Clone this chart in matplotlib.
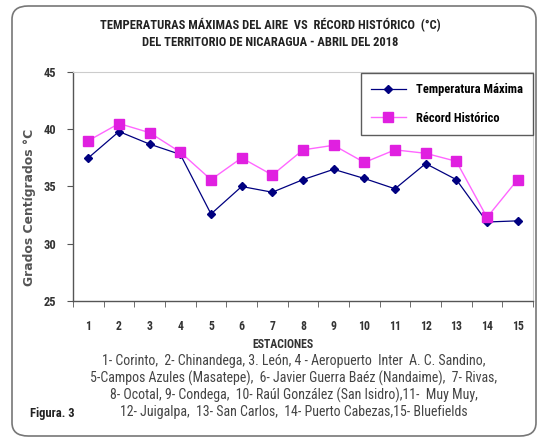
import matplotlib
matplotlib.use("Agg")
import matplotlib.pyplot as plt
from matplotlib.patches import FancyBboxPatch
from matplotlib import font_manager

estaciones = ["1", "2", "3", "4", "5", "6", "7", "8", "9", "10", "11", "12", "13", "14", "15"]
temp_maxima = [37.5, 39.8, 38.7, 37.8, 32.6, 35.0, 34.5, 35.6, 36.5, 35.7, 34.8, 37.0, 35.6, 31.9, 32.0]
record_historico = [39.0, 40.5, 39.7, 38.0, 35.6, 37.5, 36.0, 38.2, 38.6, 37.1, 38.2, 37.9, 37.2, 32.3, 35.6]
y_ticks = [25, 30, 35, 40, 45]

names = {f.name for f in font_manager.fontManager.ttflist}
narrow = "DejaVu Sans"
for cand in ["Liberation Sans Narrow", "Arial Narrow", "Roboto Condensed", "Archivo Narrow",
             "Open Sans Condensed", "Barlow Semi Condensed", "DejaVu Sans"]:
    if cand in names:
        narrow = cand
        break
plt.rcParams['font.family'] = [narrow, 'DejaVu Sans']

fig = plt.figure(figsize=(5.41, 4.42), dpi=100)

frame = FancyBboxPatch((12 / 541, 6 / 442), 524 / 541, 430 / 442,
                       boxstyle="round,pad=0,rounding_size=0.03",
                       transform=fig.transFigure, fill=False,
                       edgecolor="#777777", linewidth=1.2)
fig.patches.append(frame)

ax = fig.add_axes([73 / 541, 1 - 301 / 442, 460 / 541, 229 / 442])
x = list(range(len(estaciones)))
ax.plot(x, temp_maxima, color="#000080", lw=0.9, marker="D", markersize=4,
        markerfacecolor="#000080", markeredgecolor="#000080", label="Temperatura Máxima")
ax.plot(x, record_historico, color="#FF66FF", lw=1.0, marker="s", markersize=6.5,
        markerfacecolor="#E020E0", markeredgecolor="#E020E0", label="Récord Histórico")

ax.set_xlim(-0.5, len(estaciones) - 0.5)
ax.set_ylim(25, 45)
ax.set_yticks(y_ticks)
ax.set_yticklabels([str(v) for v in y_ticks], fontsize=9, fontweight="bold", color="#333333")
ax.set_xticks(x)
ax.set_xticklabels(estaciones, fontsize=8.5, fontweight="bold", color="#333333")
ax.tick_params(axis="x", length=0, pad=14)
ax.set_xticks([i - 0.5 for i in range(len(estaciones) + 1)], minor=True)
ax.tick_params(axis="x", which="minor", length=4, direction="out", color="#555555")
ax.tick_params(axis="y", length=4, direction="out", color="#555555", pad=8)
for s in ["left", "bottom"]:
    ax.spines[s].set_color("#555555")
    ax.spines[s].set_linewidth(1.0)
for s in ["top", "right"]:
    ax.spines[s].set_color("#cccccc")
    ax.spines[s].set_linewidth(0.8)

fig.text(30 / 541, 1 - 207 / 442, "Grados Centígrados °C", rotation=90, ha="center", va="center",
         fontsize=8.9, fontweight="bold", color="#555555", family=["DejaVu Sans"])

leg = ax.legend(loc="upper right", bbox_to_anchor=(0.999, 0.995), borderaxespad=0.0, frameon=True,
                fancybox=False, edgecolor="#333333", borderpad=0.8, labelspacing=1.25,
                handlelength=2.8, prop={"family": [narrow, "DejaVu Sans"], "weight": "bold", "size": 9})
leg.get_frame().set_linewidth(1.0)

fig.text(270 / 541, 1 - 25 / 442, "TEMPERATURAS MÁXIMAS DEL AIRE  VS  RÉCORD HISTÓRICO  (°C)",
         ha="center", va="center", fontsize=9, fontweight="bold", color="#222222")
fig.text(270 / 541, 1 - 42 / 442, "DEL TERRITORIO DE NICARAGUA - ABRIL DEL 2018",
         ha="center", va="center", fontsize=9, fontweight="bold", color="#222222")

fig.text(283 / 541, 1 - 345 / 442, "ESTACIONES", ha="center", va="center",
         fontsize=8.5, fontweight="bold", color="#333333")
lines = [
    "1- Corinto,  2- Chinandega, 3. León, 4 - Aeropuerto  Inter  A. C. Sandino,",
    "5-Campos Azules (Masatepe),  6- Javier Guerra Baéz (Nandaime),  7- Rivas,",
    "8- Ocotal, 9- Condega,  10- Raúl González (San Isidro),11-  Muy Muy,",
    "12- Juigalpa,  13- San Carlos,  14- Puerto Cabezas,15- Bluefields",
]
for i, t in enumerate(lines):
    fig.text(294 / 541, 1 - (361 + i * 17) / 442, t, ha="center", va="center",
             fontsize=10, color="#444444")
fig.text(30 / 541, 1 - 414 / 442, "Figura. 3", ha="left", va="center",
         fontsize=9, fontweight="bold", color="#222222")

fig.savefig("out.png", dpi=100)
